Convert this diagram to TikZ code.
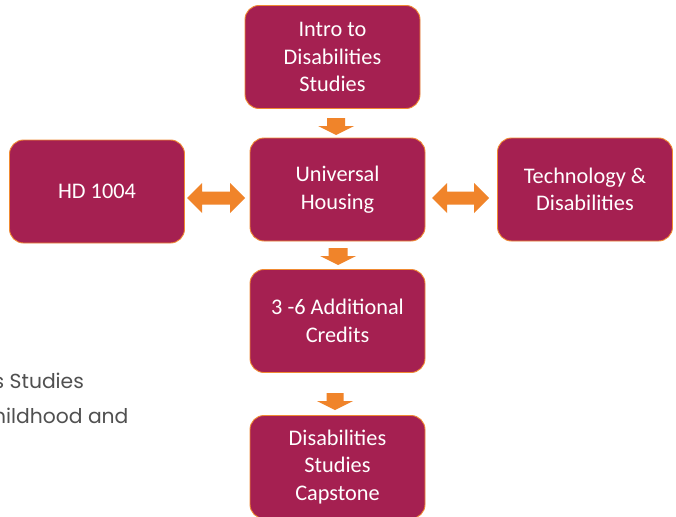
\documentclass[tikz,border=0pt]{standalone}
\usepackage{fontspec}
\setmainfont{Carlito}
\newfontfamily\grayfont{Poppins}
\usetikzlibrary{calc}
\definecolor{boxfill}{RGB}{165,32,81}
\definecolor{boxline}{RGB}{240,138,50}
\definecolor{arrowfill}{RGB}{240,132,42}
\definecolor{graytext}{RGB}{80,80,80}
\tikzset{
  course/.style={draw=boxline, line width=0.9pt, fill=boxfill, rounded corners=14pt,
    minimum width=175pt, minimum height=103pt, text=white, align=center,
    font=\fontsize{22.3}{27.5}\selectfont, inner sep=2pt},
  blockarrow/.style={fill=arrowfill, draw=none},
  sidetext/.style={text=graytext, font=\grayfont\fontsize{20.3}{24}\selectfont, anchor=base west, inner sep=0pt}
}
\begin{document}
\begin{tikzpicture}[x=1pt,y=-1pt]
\useasboundingbox (0,0) rectangle (676,516);
\fill[white] (0,0) rectangle (676,516);
\begin{scope}
\clip (0,0) rectangle (676,516);
\node[sidetext] (t1) at (-6.5,388.5) {s Studies};
\node[sidetext] (t2) at (-7,423) {hildhood and};
\end{scope}
\node[course] (intro) at (332.5,57) {Intro to\\Disabilities\\Studies};
\node[course] (uh) at (337.5,189.5) {Universal\\Housing};
\node[course] (hd) at (97,191.5) {HD 1004};
\node[course] (tech) at (585,189.5) {Technology \&\\Disabilities};
\node[course] (add) at (337.5,321) {3 -6 Additional\\Credits};
\node[course] (cap) at (337.5,467) {Disabilities\\Studies\\Capstone};
% down arrows
\coordinate (d1) at (336,118);
\fill[blockarrow] ($(d1)+(-9,0)$) -- ++(18,0) -- ++(0,8) -- ++(9,0) -- ($(d1)+(0,17)$) -- ($(d1)+(-18,8)$) -- ++(9,0) -- cycle;
\coordinate (d2) at (338,248);
\fill[blockarrow] ($(d2)+(-9.5,0)$) -- ++(19,0) -- ++(0,8) -- ++(8.5,0) -- ($(d2)+(0,17)$) -- ($(d2)+(-18,8)$) -- ++(8.5,0) -- cycle;
\coordinate (d3) at (335,393);
\fill[blockarrow] ($(d3)+(-8.5,0)$) -- ++(17,0) -- ++(0,8) -- ++(9.5,0) -- ($(d3)+(0,17)$) -- ($(d3)+(-18,8)$) -- ++(9.5,0) -- cycle;
% double arrows
\coordinate (l1) at (187,198);
\coordinate (l2) at (245,198);
\fill[blockarrow] (l1) -- ($(l1)+(15,-15)$) -- ($(l1)+(15,-6.5)$) -- ($(l2)+(-15,-6.5)$) -- ($(l2)+(-15,-15)$) -- (l2) -- ($(l2)+(-15,15)$) -- ($(l2)+(-15,6.5)$) -- ($(l1)+(15,6.5)$) -- ($(l1)+(15,15)$) -- cycle;
\coordinate (r1) at (432,198);
\coordinate (r2) at (489,198);
\fill[blockarrow] (r1) -- ($(r1)+(15,-15)$) -- ($(r1)+(15,-6.5)$) -- ($(r2)+(-15,-6.5)$) -- ($(r2)+(-15,-15)$) -- (r2) -- ($(r2)+(-15,15)$) -- ($(r2)+(-15,6.5)$) -- ($(r1)+(15,6.5)$) -- ($(r1)+(15,15)$) -- cycle;
\end{tikzpicture}
\end{document}
